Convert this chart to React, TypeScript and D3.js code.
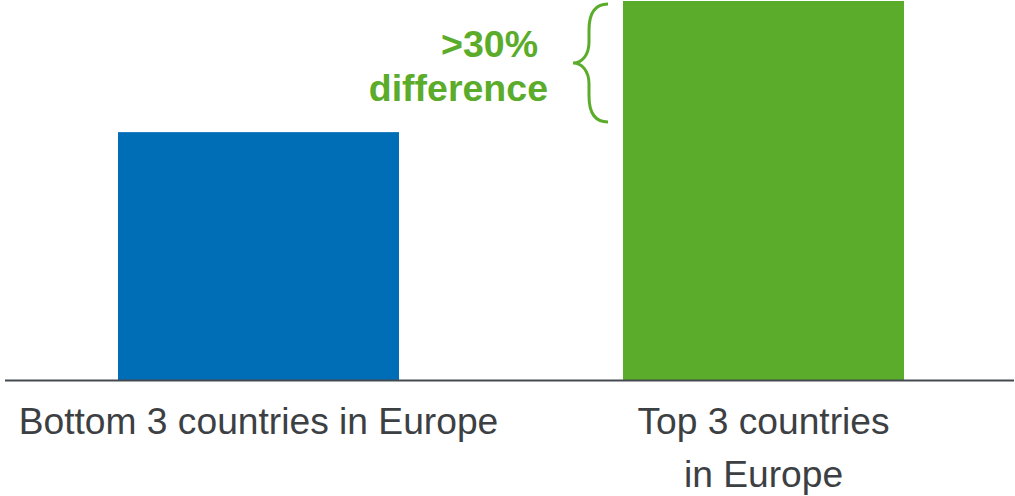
import React from "react";
import * as d3 from "d3";

const categories = ["Bottom 3 countries in Europe", "Top 3 countries in Europe"];
const values = [65.4, 100];
const labelLines = [["Bottom 3 countries in Europe"], ["Top 3 countries", "in Europe"]];
const barColors = ["#006EB7", "#5AAC2A"];
const annotationLines = [">30%", "difference"];

export default function App() {
  const W = 1015;
  const H = 496;
  const baseline = 380;
  const x = d3
    .scaleBand<string>()
    .domain(categories)
    .range([6, 1016])
    .paddingInner(0.4436)
    .paddingOuter(0.2218);
  const y = d3.scaleLinear().domain([0, 100]).range([baseline, 1]);
  const green = "#5AAC2A";
  const font = "'Liberation Sans', Arial, Helvetica, sans-serif";

  const bracePath = "M608,4 C594,4 589,14 589,30 L589,42 C589,55 582,63 573,63 C582,63 589,71 589,84 L589,96 C589,112 594,122 608,122";

  return (
    <svg
      width={W}
      height={H}
      style={{ position: "absolute", left: 0, top: 0, background: "#fff" }}
      fontFamily={font}
    >
      {categories.map((c, i) => (
        <rect
          key={c}
          x={x(c)}
          y={y(values[i])}
          width={x.bandwidth()}
          height={baseline - y(values[i])}
          fill={barColors[i]}
        />
      ))}
      <line x1={5} x2={1014} y1={baseline + 0.5} y2={baseline + 0.5} stroke="#454a50" strokeWidth={2} />
      {categories.map((c, i) => (
        <text
          key={c}
          x={(x(c) as number) + x.bandwidth() / 2}
          y={433.5}
          textAnchor="middle"
          fontSize={37.2}
          fill="#3c4043"
        >
          {labelLines[i].map((l, j) => (
            <tspan key={j} x={(x(c) as number) + x.bandwidth() / 2} dy={j === 0 ? 0 : 53}>
              {l}
            </tspan>
          ))}
        </text>
      ))}
      <path d={bracePath} fill="none" stroke={green} strokeWidth={3} />
      <text x={538} y={57} textAnchor="end" fontSize={37.5} fontWeight="bold" fill={green}>
        {annotationLines[0]}
      </text>
      <text x={548} y={101} textAnchor="end" fontSize={37.5} fontWeight="bold" fill={green}>
        {annotationLines[1]}
      </text>
    </svg>
  );
}
